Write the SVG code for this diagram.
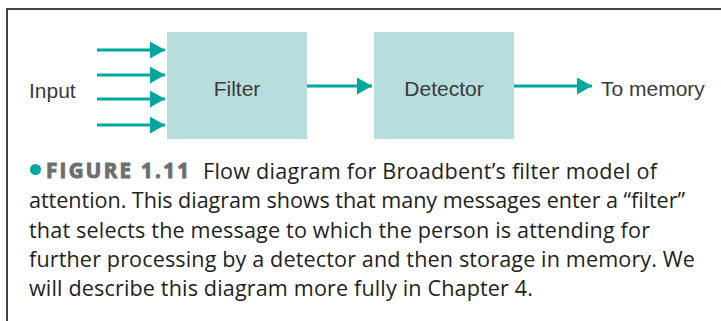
<svg xmlns="http://www.w3.org/2000/svg" width="721" height="321" viewBox="0 0 721 321">
<defs>
<marker id="ah" markerUnits="userSpaceOnUse" markerWidth="16" markerHeight="17" refX="15" refY="8.5" orient="auto">
<path d="M0,0 L15,8.5 L0,17 Z" fill="#00a79d"/>
</marker>
</defs>
<style>
.box{fill:#b7dedc}
.lbl{font-family:"Liberation Sans",Arial,sans-serif;font-size:21px;fill:#3a3a3a}
.conn line{stroke:#00a79d;stroke-width:3;marker-end:url(#ah)}
.cap{font-family:"Open Sans","Noto Sans",sans-serif;font-size:21.6px;fill:#231f20}
.fig{font-family:"Open Sans","Noto Sans",sans-serif;font-size:20.5px;font-weight:bold;fill:#6d6e70;stroke:#6d6e70;stroke-width:1;paint-order:stroke}
</style>
<rect width="721" height="321" fill="#fff"/>
<path d="M7,321 V9 H721" fill="none" stroke="#444" stroke-width="2"/>
<g id="input"><text class="lbl" x="29" y="98">Input</text></g>
<g id="filter"><rect class="box" x="167" y="32" width="140" height="107"/><text class="lbl" x="237" y="96" text-anchor="middle">Filter</text></g>
<g id="detector"><rect class="box" x="374" y="32" width="140" height="107"/><text class="lbl" x="444" y="96" text-anchor="middle">Detector</text></g>
<g id="memory"><text class="lbl" x="601" y="96">To memory</text></g>
<g class="conn" id="connectors">
<line x1="97" y1="50" x2="165" y2="50"/>
<line x1="97" y1="75" x2="165" y2="75"/>
<line x1="97" y1="99" x2="165" y2="99"/>
<line x1="97" y1="125" x2="165" y2="125"/>
<line x1="307" y1="86" x2="372" y2="86"/>
<line x1="514" y1="86" x2="592" y2="86"/>
</g>
<g id="caption">
<circle cx="35.5" cy="169.5" r="5.5" fill="#00a79d"/>
<text class="fig" x="46" y="178" textLength="143" lengthAdjust="spacing">FIGURE 1.11</text>
<text class="cap" x="203" y="179" textLength="454" lengthAdjust="spacing">Flow diagram for Broadbent’s filter model of</text>
<text class="cap" x="29" y="208" textLength="656" lengthAdjust="spacing">attention. This diagram shows that many messages enter a “filter”</text>
<text class="cap" x="29" y="238" textLength="621" lengthAdjust="spacing">that selects the message to which the person is attending for</text>
<text class="cap" x="29" y="267" textLength="666" lengthAdjust="spacing">further processing by a detector and then storage in memory. We</text>
<text class="cap" x="29" y="296" textLength="504" lengthAdjust="spacing">will describe this diagram more fully in Chapter 4.</text>
</g>
</svg>
